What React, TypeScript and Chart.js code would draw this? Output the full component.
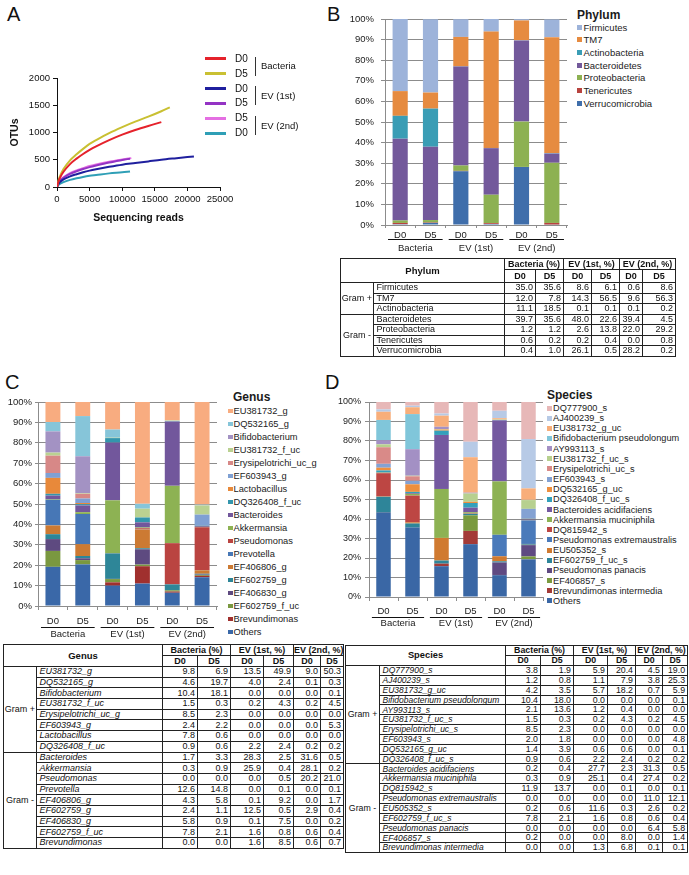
import React, { useEffect, useRef } from "react";
import { Chart, registerables } from "chart.js";

Chart.register(...registerables);

const FONT = "'Liberation Sans', Arial, Helvetica, sans-serif";
const INK = "#1b1b1b";
const GRID = "#8c8c8c";

// ---------------- Panel A: rarefaction curves ----------------
const readsBactD0 = [0, 250, 500, 1000, 2000, 3000, 4000, 5000, 6000, 8000, 10000, 12000, 14000, 16000];
const otusBactD0 = [0, 110, 180, 280, 420, 520, 605, 680, 745, 860, 960, 1045, 1120, 1190];
const readsBactD5 = [0, 250, 500, 1000, 2000, 3000, 4000, 5000, 6000, 8000, 10000, 12000, 14000, 16000, 17300];
const otusBactD5 = [0, 130, 210, 330, 490, 600, 700, 790, 860, 990, 1100, 1200, 1290, 1390, 1460];
const readsEv1D0 = [0, 250, 500, 1000, 2000, 3000, 4000, 5000, 6000, 8000, 10000, 12000, 14000, 16000, 18000, 21000];
const otusEv1D0 = [0, 60, 95, 140, 195, 235, 270, 300, 325, 370, 410, 440, 470, 500, 525, 560];
const readsEv1D5 = [0, 250, 500, 1000, 2000, 3000, 4000, 5000, 6000, 8000, 10000, 11200];
const otusEv1D5 = [0, 75, 115, 170, 240, 290, 330, 365, 395, 450, 495, 520];
const readsEv2D5 = [0, 250, 500, 1000, 2000, 3000, 4000, 5000, 6000, 8000, 10000, 11400];
const otusEv2D5 = [0, 85, 125, 180, 255, 305, 345, 385, 415, 465, 505, 530];
const readsEv2D0 = [0, 250, 500, 1000, 2000, 3000, 4000, 5000, 6000, 8000, 10000, 11200];
const otusEv2D0 = [0, 40, 60, 90, 130, 160, 185, 205, 220, 250, 270, 285];

const rareDays = ["D0", "D5", "D0", "D5", "D5", "D0"];
const rareGroups = ["Bacteria", "EV (1st)", "EV (2nd)"];
const rareColors = ["#E5222B", "#C9C032", "#1F1F9E", "#9433C4", "#E46FE2", "#2F9FB6"];
const rareReads = [readsBactD0, readsBactD5, readsEv1D0, readsEv1D5, readsEv2D5, readsEv2D0];
const rareOtus = [otusBactD0, otusBactD5, otusEv1D0, otusEv1D5, otusEv2D5, otusEv2D0];
const readTicks = [0, 5000, 10000, 15000, 20000, 25000];
const otuTicks = [0, 500, 1000, 1500, 2000];

// ---------------- shared bar-chart categories ----------------
const dayLabels = ["D0", "D5", "D0", "D5", "D0", "D5"];
const groupLabels = ["Bacteria", "EV (1st)", "EV (2nd)"];
const tableGroupHeaders = ["Bacteria (%)", "EV (1st, %)", "EV (2nd, %)"];

// ---------------- Panel B: phylum ----------------
const phylumNames = ["Firmicutes", "TM7", "Actinobacteria", "Bacteroidetes", "Proteobacteria", "Tenericutes", "Verrucomicrobia"];
const phylumColors = ["#9DB3DA", "#E68B40", "#3A9DB5", "#73599B", "#8DB152", "#B8433F", "#3F6EAB"];
const phylumPct = [
  [35.0, 35.6, 8.6, 6.1, 0.6, 8.6],
  [12.0, 7.8, 14.3, 56.5, 9.6, 56.3],
  [11.1, 18.5, 0.1, 0.1, 0.1, 0.2],
  [39.7, 35.6, 48.0, 22.6, 39.4, 4.5],
  [1.2, 1.2, 2.6, 13.8, 22.0, 29.2],
  [0.6, 0.2, 0.2, 0.4, 0.0, 0.8],
  [0.4, 1.0, 26.1, 0.5, 28.2, 0.2],
];
const phylumGramPlus = 3;

// ---------------- Panel C: genus ----------------
const genusNames = [
  "EU381732_g", "DQ532165_g", "Bifidobacterium", "EU381732_f_uc", "Erysipelotrichi_uc_g", "EF603943_g",
  "Lactobacillus", "DQ326408_f_uc", "Bacteroides", "Akkermansia", "Pseudomonas", "Prevotella",
  "EF406806_g", "EF602759_g", "EF406830_g", "EF602759_f_uc", "Brevundimonas",
];
const genusColors = [
  "#F8AC80", "#86C5D9", "#A392C3", "#BAD191", "#D78887", "#7FA0D3", "#E8893A", "#3396AD", "#72579C",
  "#8DB253", "#BA4441", "#4777B6", "#CC7A33", "#2E8698", "#5E4A80", "#7A9840", "#A0302E",
];
const genusPct = [
  [9.8, 6.9, 13.5, 49.9, 9.0, 50.3],
  [4.6, 19.7, 4.0, 2.4, 0.1, 0.3],
  [10.4, 18.1, 0.0, 0.0, 0.0, 0.1],
  [1.5, 0.3, 0.2, 4.3, 0.2, 4.5],
  [8.5, 2.3, 0.0, 0.0, 0.0, 0.0],
  [2.4, 2.2, 0.0, 0.0, 0.0, 5.3],
  [7.8, 0.6, 0.0, 0.0, 0.0, 0.0],
  [0.9, 0.6, 2.2, 2.4, 0.2, 0.2],
  [1.7, 3.3, 28.3, 2.5, 31.6, 0.5],
  [0.3, 0.9, 25.9, 0.4, 28.1, 0.2],
  [0.0, 0.0, 0.0, 0.5, 20.2, 21.0],
  [12.6, 14.8, 0.0, 0.1, 0.0, 0.1],
  [4.3, 5.8, 0.1, 9.2, 0.0, 1.7],
  [2.4, 1.1, 12.5, 0.5, 2.9, 0.4],
  [5.8, 0.9, 0.1, 7.5, 0.0, 0.2],
  [7.8, 2.1, 1.6, 0.8, 0.6, 0.4],
  [0.0, 0.0, 1.6, 8.5, 0.6, 0.7],
];
const genusOthers = [19.2, 20.4, 10.0, 11.0, 6.5, 14.1];
const genusOthersColor = "#3A68A8";
const genusGramPlus = 8;

// ---------------- Panel D: species ----------------
const speciesNames = [
  "DQ777900_s", "AJ400239_s", "EU381732_g_uc", "Bifidobacterium pseudolongum", "AY993113_s",
  "EU381732_f_uc_s", "Erysipelotrichi_uc_s", "EF603943_s", "DQ532165_g_uc", "DQ326408_f_uc_s",
  "Bacteroides acidifaciens", "Akkermansia muciniphila", "DQ815942_s", "Pseudomonas extremaustralis",
  "EU505352_s", "EF602759_f_uc_s", "Pseudomonas panacis", "EF406857_s", "Brevundimonas intermedia",
];
const speciesColors = [
  "#E7B8B8", "#B7CAE6", "#F8AE7A", "#80C6DA", "#A390C4", "#B7D08F", "#D98A88", "#84A2D3", "#EE8F3E",
  "#33A0BB", "#7459A0", "#8DB253", "#BD4643", "#4A7ABA", "#D07A30", "#2E8599", "#5F4A82", "#7A9A3F", "#A33A37",
];
const speciesPct = [
  [3.8, 1.9, 5.9, 20.4, 4.5, 19.0],
  [1.2, 0.8, 1.1, 7.9, 3.8, 25.3],
  [4.2, 3.5, 5.7, 18.2, 0.7, 5.9],
  [10.4, 18.0, 0.0, 0.0, 0.0, 0.1],
  [2.1, 13.6, 1.2, 0.4, 0.0, 0.0],
  [1.5, 0.3, 0.2, 4.3, 0.2, 4.5],
  [8.5, 2.3, 0.0, 0.0, 0.0, 0.0],
  [2.0, 1.8, 0.0, 0.0, 0.0, 4.8],
  [1.4, 3.9, 0.6, 0.6, 0.0, 0.1],
  [0.9, 0.6, 2.2, 2.4, 0.2, 0.2],
  [0.2, 0.4, 27.7, 2.3, 31.3, 0.5],
  [0.3, 0.9, 25.1, 0.4, 27.4, 0.2],
  [11.9, 13.7, 0.0, 0.1, 0.0, 0.1],
  [0.0, 0.0, 0.0, 0.0, 11.0, 12.1],
  [0.2, 0.6, 11.6, 0.3, 2.6, 0.2],
  [7.8, 2.1, 1.6, 0.8, 0.6, 0.4],
  [0.0, 0.0, 0.0, 0.0, 6.4, 5.8],
  [0.2, 0.0, 0.0, 8.0, 0.0, 1.4],
  [0.0, 0.0, 1.3, 6.8, 0.1, 0.1],
];
const speciesOthers = [43.4, 35.6, 15.8, 27.1, 11.2, 19.3];
const speciesOthersColor = "#3A67A5";
const speciesGramPlus = 10;

// ======================================================================

function RarefactionChart() {
  const ref = useRef<HTMLCanvasElement>(null);
  useEffect(() => {
    const tickFont = { family: FONT, size: 9.5 };
    const chart = new Chart(ref.current as HTMLCanvasElement, {
      type: "line",
      data: {
        datasets: rareReads.map((xs, k) => ({
          label: rareDays[k],
          data: xs.map((x, i) => ({ x, y: rareOtus[k][i] })),
          borderColor: rareColors[k],
          borderWidth: 2,
          pointRadius: 0,
          fill: false,
          cubicInterpolationMode: "monotone" as const,
        })),
      },
      options: {
        animation: false,
        responsive: false,
        maintainAspectRatio: false,
        devicePixelRatio: 1,
        layout: { padding: { top: 18, right: 20, left: 0, bottom: 0 } },
        plugins: { legend: { display: false }, tooltip: { enabled: false } },
        scales: {
          x: {
            type: "linear",
            min: readTicks[0],
            max: readTicks[readTicks.length - 1],
            afterBuildTicks: (s: any) => { s.ticks = readTicks.map((v) => ({ value: v })); },
            ticks: { autoSkip: false, maxRotation: 0, font: tickFont, color: "#111", padding: 3, callback: (v: any) => String(v) },
            grid: { drawOnChartArea: false, drawTicks: true, tickLength: 4, color: "#111" },
            border: { display: true, color: "#111", width: 1 },
            title: { display: true, text: "Sequencing reads", color: "#111", font: { family: FONT, size: 10.5, weight: "bold" }, padding: { top: 0, bottom: 6 } },
            afterFit: (s: any) => { s.height = 43; },
          },
          y: {
            type: "linear",
            min: otuTicks[0],
            max: otuTicks[otuTicks.length - 1],
            afterBuildTicks: (s: any) => { s.ticks = otuTicks.map((v) => ({ value: v })); },
            ticks: { font: tickFont, color: "#111", padding: 3, callback: (v: any) => String(v) },
            grid: { drawOnChartArea: false, drawTicks: true, tickLength: 4, color: "#111" },
            border: { display: true, color: "#111", width: 1 },
            title: { display: true, text: "OTUs", color: "#111", font: { family: FONT, size: 10.5, weight: "bold" }, padding: { top: 9, bottom: 0 } },
            afterFit: (s: any) => { s.width = 57; },
          },
        },
      } as any,
    });
    return () => chart.destroy();
  }, []);
  return <canvas ref={ref} width={240} height={170} style={{ position: "absolute", left: 0, top: 60, width: 240, height: 170 }} />;
}

function RarefactionLegend() {
  const rowY = rareDays.map((_, i) => 58.7 + i * 14.9);
  return (
    <div style={{ position: "absolute", left: 0, top: 0, fontFamily: FONT, color: "#111" }}>
      {rareDays.map((d, i) => (
        <React.Fragment key={i}>
          <div style={{ position: "absolute", left: 205, top: rowY[i] - 1.4, width: 21, height: 2.8, background: rareColors[i] }} />
          <div style={{ position: "absolute", left: 235, top: rowY[i] - 7, height: 14, lineHeight: "14px", fontSize: 10, whiteSpace: "nowrap" }}>{d}</div>
        </React.Fragment>
      ))}
      {rareGroups.map((g, k) => {
        const mid = (rowY[2 * k] + rowY[2 * k + 1]) / 2;
        return (
          <React.Fragment key={g}>
            <div style={{ position: "absolute", left: 254.5, top: mid - 9.5, width: 1.3, height: 19, background: "#333" }} />
            <div style={{ position: "absolute", left: 261, top: mid - 7, height: 14, lineHeight: "14px", fontSize: 9.5, whiteSpace: "nowrap" }}>{g}</div>
          </React.Fragment>
        );
      })}
    </div>
  );
}

type BarProps = {
  left: number; top: number; width: number; height: number;
  yWidth: number; xHeight: number; padTop: number; padRight: number;
  names: string[]; colors: string[]; values: number[][];
  yTickLen: number; yPad: number; xTickLen: number; xPad: number;
  lineOff: number; groupOff: number; yFont: number;
};

function StackedBars(p: BarProps) {
  const ref = useRef<HTMLCanvasElement>(null);
  useEffect(() => {
    const tickFont = { family: FONT, size: 9.5 };
    const groupPlugin = {
      id: "groupAxis",
      afterDraw(chart: any) {
        const xs = chart.scales.x;
        const ctx = chart.ctx;
        const base = chart.chartArea.bottom;
        const cat = xs.getPixelForValue(1) - xs.getPixelForValue(0);
        ctx.save();
        ctx.strokeStyle = "#111";
        ctx.lineWidth = 1;
        ctx.fillStyle = INK;
        ctx.font = `9.5px ${FONT}`;
        ctx.textAlign = "center";
        ctx.textBaseline = "middle";
        groupLabels.forEach((g, i) => {
          const a = xs.getPixelForValue(2 * i);
          const b = xs.getPixelForValue(2 * i + 1);
          const y = Math.round(base + p.lineOff) + 0.5;
          ctx.beginPath();
          ctx.moveTo(a - cat * 0.4, y);
          ctx.lineTo(b + cat * 0.4, y);
          ctx.stroke();
          ctx.fillText(g, (a + b) / 2, base + p.groupOff);
        });
        ctx.restore();
      },
    };
    const order = p.names.map((_, i) => i).reverse();
    const chart = new Chart(ref.current as HTMLCanvasElement, {
      type: "bar",
      data: {
        labels: dayLabels,
        datasets: order.map((i) => ({
          label: p.names[i],
          data: p.values[i],
          backgroundColor: p.colors[i],
          borderWidth: 0,
          barPercentage: 0.5,
          categoryPercentage: 1,
        })),
      },
      options: {
        animation: false,
        responsive: false,
        maintainAspectRatio: false,
        devicePixelRatio: 1,
        layout: { padding: { top: p.padTop, right: p.padRight, left: 0, bottom: 0 } },
        plugins: { legend: { display: false }, tooltip: { enabled: false } },
        scales: {
          x: {
            stacked: true,
            ticks: { font: tickFont, color: INK, padding: p.xPad, maxRotation: 0, autoSkip: false },
            grid: { display: true, drawOnChartArea: false, drawTicks: true, tickLength: p.xTickLen, color: GRID, offset: true },
            border: { display: true, color: GRID, width: 1 },
            afterFit: (s: any) => { s.height = p.xHeight; },
          },
          y: {
            stacked: true,
            min: 0,
            max: 100,
            ticks: { stepSize: 10, font: { family: FONT, size: p.yFont }, color: INK, padding: p.yPad, callback: (v: any) => v + "%" },
            grid: { color: GRID, lineWidth: 1, drawTicks: true, tickLength: p.yTickLen },
            border: { display: true, color: GRID, width: 1 },
            afterFit: (s: any) => { s.width = p.yWidth; },
          },
        },
      } as any,
      plugins: [groupPlugin],
    });
    return () => chart.destroy();
  }, []);
  return <canvas ref={ref} width={p.width} height={p.height} style={{ position: "absolute", left: p.left, top: p.top, width: p.width, height: p.height }} />;
}

type LegendProps = {
  left: number; firstY: number; step: number; title: string; titleX: number; titleY: number;
  names: string[]; colors: string[]; fontSize: number; square: number; gap: number;
};

function BarLegend(p: LegendProps) {
  return (
    <div style={{ position: "absolute", left: 0, top: 0, fontFamily: FONT, color: INK }}>
      <div style={{ position: "absolute", left: p.titleX, top: p.titleY - 8, height: 16, lineHeight: "16px", fontSize: 12, fontWeight: "bold", whiteSpace: "nowrap" }}>{p.title}</div>
      {p.names.map((n, i) => (
        <div key={i} style={{ position: "absolute", left: p.left, top: p.firstY + i * p.step - 7, height: 14, display: "flex", alignItems: "center", whiteSpace: "nowrap", fontSize: p.fontSize }}>
          <span style={{ display: "inline-block", width: p.square, height: p.square, background: p.colors[i], marginRight: p.gap }} />
          <span>{n}</span>
        </div>
      ))}
    </div>
  );
}

type TableProps = {
  left: number; top: number; colWidths: number[]; headH: number[]; rowH: number;
  title: string; names: string[]; values: number[][]; gramPlus: number; italic: boolean; fontSize: number; nameFont: number;
};

function DataTable(p: TableProps) {
  const total = p.colWidths.reduce((a, b) => a + b, 0);
  const line = "1px solid #222";
  const cell: React.CSSProperties = { border: line, padding: 0, fontSize: p.fontSize, lineHeight: 1, overflow: "hidden", whiteSpace: "nowrap" };
  const head: React.CSSProperties = { ...cell, fontWeight: "bold", textAlign: "center" };
  return (
    <table style={{ position: "absolute", left: p.left, top: p.top, width: total, borderCollapse: "collapse", tableLayout: "fixed", fontFamily: FONT, color: "#111", border: line }}>
      <colgroup>
        {p.colWidths.map((w, i) => <col key={i} style={{ width: w }} />)}
      </colgroup>
      <tbody>
        <tr style={{ height: p.headH[0] }}>
          <td colSpan={2} rowSpan={2} style={{ ...head, fontSize: p.fontSize + 0.5 }}>{p.title}</td>
          {tableGroupHeaders.map((g) => <td key={g} colSpan={2} style={head}>{g}</td>)}
        </tr>
        <tr style={{ height: p.headH[1] }}>
          {dayLabels.map((d, i) => <td key={i} style={head}>{d}</td>)}
        </tr>
        {p.names.map((n, r) => (
          <tr key={n} style={{ height: p.rowH }}>
            {r === 0 && <td rowSpan={p.gramPlus} style={{ ...cell, textAlign: "center" }}>Gram +</td>}
            {r === p.gramPlus && <td rowSpan={p.names.length - p.gramPlus} style={{ ...cell, textAlign: "center" }}>Gram -</td>}
            <td style={{ ...cell, fontSize: p.nameFont, textAlign: "left", paddingLeft: 2.5, fontStyle: p.italic ? "italic" : "normal" }}>{n}</td>
            {p.values[r].map((v, c) => (
              <td key={c} style={{ ...cell, textAlign: "right", paddingRight: 2 }}>{v.toFixed(1)}</td>
            ))}
          </tr>
        ))}
      </tbody>
    </table>
  );
}

function PanelLetter({ text, left, top }: { text: string; left: number; top: number }) {
  return <div style={{ position: "absolute", left, top, fontFamily: FONT, fontSize: 20, lineHeight: "20px", color: "#111" }}>{text}</div>;
}

export default function App() {
  const genusChartNames = [...genusNames, "Others"];
  const genusChartColors = [...genusColors, genusOthersColor];
  const genusChartValues = [...genusPct, genusOthers];
  const speciesChartNames = [...speciesNames, "Others"];
  const speciesChartColors = [...speciesColors, speciesOthersColor];
  const speciesChartValues = [...speciesPct, speciesOthers];
  return (
    <div style={{ position: "absolute", left: 0, top: 0, width: 689, height: 875, background: "#fff", overflow: "hidden", fontFamily: FONT }}>
      <PanelLetter text="A" left={7} top={4} />
      <PanelLetter text="B" left={327} top={4} />
      <PanelLetter text="C" left={5} top={372} />
      <PanelLetter text="D" left={325} top={372} />

      <RarefactionChart />
      <RarefactionLegend />

      <StackedBars
        left={340} top={0} width={232} height={260}
        yWidth={45} xHeight={35} padTop={19} padRight={5}
        names={phylumNames} colors={phylumColors} values={phylumPct}
        yTickLen={4} yPad={7} xTickLen={3} xPad={2} lineOff={14} groupOff={23} yFont={9.5}
      />
      <BarLegend left={577} firstY={27} step={12.7} title="Phylum" titleX={577} titleY={14.5}
        names={phylumNames} colors={phylumColors} fontSize={9.5} square={5} gap={1.5} />
      <DataTable left={340} top={258} colWidths={[33, 131, 31, 28, 28, 28, 23, 33]} headH={[11, 13]} rowH={10.5}
        title="Phylum" names={phylumNames} values={phylumPct} gramPlus={phylumGramPlus} italic={false} fontSize={9} nameFont={9} />

      <StackedBars
        left={0} top={390} width={222} height={252}
        yWidth={38} xHeight={36} padTop={12} padRight={5}
        names={genusChartNames} colors={genusChartColors} values={genusChartValues}
        yTickLen={3} yPad={3} xTickLen={4} xPad={6} lineOff={21} groupOff={28} yFont={9.5}
      />
      <BarLegend left={228} firstY={411} step={13} title="Genus" titleX={233} titleY={397}
        names={genusChartNames} colors={genusChartColors} fontSize={9.3} square={4.5} gap={1} />
      <DataTable left={3} top={644} colWidths={[33, 126, 35, 33, 33, 30, 27, 23]} headH={[11, 11]} rowH={10.7}
        title="Genus" names={genusNames} values={genusPct} gramPlus={genusGramPlus} italic={true} fontSize={9} nameFont={9} />

      <StackedBars
        left={330} top={390} width={216} height={240}
        yWidth={39} xHeight={33} padTop={12} padRight={3}
        names={speciesChartNames} colors={speciesChartColors} values={speciesChartValues}
        yTickLen={4} yPad={4} xTickLen={4} xPad={5} lineOff={20} groupOff={26} yFont={9}
      />
      <BarLegend left={547} firstY={408} step={10.15} title="Species" titleX={547} titleY={395}
        names={speciesChartNames} colors={speciesChartColors} fontSize={9.2} square={5} gap={1} />
      <DataTable left={345} top={645} colWidths={[34, 126, 35, 33, 34, 28, 27, 25]} headH={[10, 10]} rowH={9.85}
        title="Species" names={speciesNames} values={speciesPct} gramPlus={speciesGramPlus} italic={true} fontSize={8.8} nameFont={8.5} />
    </div>
  );
}
